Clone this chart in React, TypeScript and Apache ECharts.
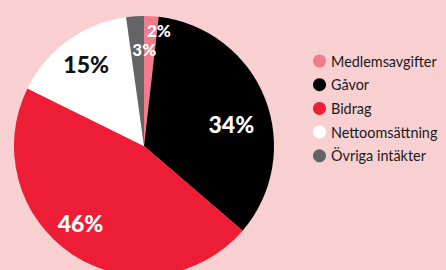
import React, { useEffect, useRef } from "react";
import * as echarts from "echarts";

const categories = ["Medlemsavgifter", "Gåvor", "Bidrag", "Nettoomsättning", "Övriga intäkter"];
const values = [1.8, 34.5, 46.0, 15.5, 2.2];
const labels = ["2%", "34%", "46%", "15%", "3%"];
const colors = ["#f27b8c", "#000000", "#ee1d36", "#ffffff", "#636466"];
const labelColors = ["#ffffff", "#ffffff", "#ffffff", "#111111", "#ffffff"];
const labelSizes = [17, 23, 23, 23, 17];
const labelOffsets = [
  [11, -48],
  [24, 3],
  [-26, 20],
  [-18, -27],
  [5, -29],
];

export default function App() {
  const ref = useRef<HTMLDivElement>(null);
  useEffect(() => {
    if (!ref.current) return;
    const chart = echarts.init(ref.current, undefined, { renderer: "svg" });
    chart.setOption({
      animation: false,
      backgroundColor: "#f9d0d1",
      legend: {
        orient: "vertical",
        left: 308,
        top: 49,
        itemWidth: 13,
        itemHeight: 13,
        itemGap: 9.7,
        icon: "circle",
        textStyle: { fontFamily: "Lato", fontSize: 14.4, color: "#1a1a1a" },
        data: categories,
      },
      series: [
        {
          type: "pie",
          center: [144, 146],
          radius: [0, 130],
          startAngle: 90,
          clockwise: true,
          avoidLabelOverlap: false,
          label: {
            show: true,
            position: "inside",
            fontFamily: "Lato",
            fontWeight: 900,
          },
          labelLine: { show: false },
          labelLayout: (p: any) => ({
            dx: labelOffsets[p.dataIndex][0],
            dy: labelOffsets[p.dataIndex][1],
          }),
          emphasis: { disabled: true },
          data: categories.map((c, i) => ({
            name: c,
            value: values[i],
            itemStyle: { color: colors[i] },
            label: {
              formatter: labels[i],
              color: labelColors[i],
              fontSize: labelSizes[i],
            },
          })),
        },
      ],
    });
    return () => chart.dispose();
  }, []);
  return (
    <div
      ref={ref}
      style={{ position: "fixed", left: 0, top: 0, width: 446, height: 270 }}
    />
  );
}
